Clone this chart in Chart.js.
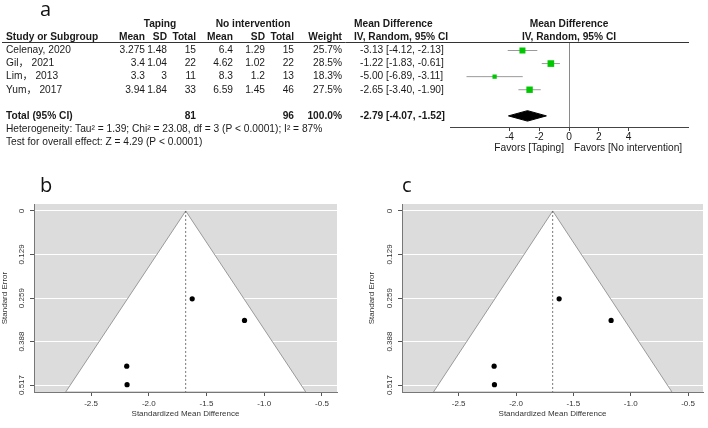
<!DOCTYPE html>
<html>
<head>
<meta charset="utf-8">
<script src="https://cdn.jsdelivr.net/npm/chart.js@4.4.1/dist/chart.umd.min.js"></script>
<style>
  body { margin: 0; background: #fff; width: 708px; height: 428px; overflow: hidden; position: relative; }
  canvas { position: absolute; }
  .lab { position: absolute; font-family: "Open Sans", sans-serif; font-size: 20px; line-height: 20px; color: #111; }
</style>
</head>
<body>
<canvas id="forest" width="708" height="170" style="left:0;top:0"></canvas>
<canvas id="funnelB" width="354" height="258" style="left:0;top:170px"></canvas>
<canvas id="funnelC" width="354" height="258" style="left:354px;top:170px"></canvas>
<div class="lab" style="left:40px;top:-1px">a</div>
<div class="lab" style="left:40px;top:175px">b</div>
<div class="lab" style="left:402px;top:175px">c</div>
<script>
// forest plot data (panel a)
const studies = ["Celenay, 2020", "Gil\uFF0C 2021", "Lim\uFF0C 2013", "Yum\uFF0C 2017"];
const tapingMean = [3.275, 3.4, 3.3, 3.94];
const tapingSD = [1.48, 1.04, 3, 1.84];
const tapingTotal = [15, 22, 11, 33];
const noMean = [6.4, 4.62, 8.3, 6.59];
const noSD = [1.29, 1.02, 1.2, 1.45];
const noTotal = [15, 22, 13, 46];
const weights = [25.7, 28.5, 18.3, 27.5];
const mdEst = [-3.13, -1.22, -5.00, -2.65];
const mdLow = [-4.12, -1.83, -6.89, -3.40];
const mdHigh = [-2.13, -0.61, -3.11, -1.90];
const pooledMD = -2.79;
const pooledLow = -4.07;
const pooledHigh = -1.52;
const totalTaping = 81;
const totalNo = 96;
const forestTicks = [-4, -2, 0, 2, 4];
const studyRows = [1, 2, 3, 4];
const totalRow = 6;

// funnel plot data (panels b and c)
const smd = [-1.624, -1.171, -2.191, -2.188];
const seVals = [0.261, 0.325, 0.461, 0.516];
const pooledSMD = -1.68;
const funnelX = [-1.68, -2.72, -0.64, -1.68];
const funnelY = [0, 0.538, 0.538, 0];
const seTicks = [0, 0.129, 0.259, 0.388, 0.517];
const smdTicks = [-2.5, -2, -1.5, -1, -0.5];

const FONT = '"Liberation Sans", Arial, "Noto Sans CJK SC", sans-serif';

const tablePlugin = {
  id: "tableText",
  afterDraw(chart) {
    const ctx = chart.ctx;
    const y = chart.scales.y;
    const x = chart.scales.x;
    const area = chart.chartArea;
    const mid = (area.left + area.right) / 2;
    ctx.save();
    ctx.fillStyle = "#1a1a1a";
    ctx.textBaseline = "middle";
    function txt(s, px, row, align, bold) {
      ctx.font = (bold ? "bold " : "") + "10.2px " + FONT;
      ctx.textAlign = align;
      ctx.fillText(s, px, typeof row === "number" ? y.getPixelForValue(row) : row.px);
    }
    // header rule
    ctx.strokeStyle = "#333";
    ctx.lineWidth = 1;
    ctx.beginPath();
    ctx.moveTo(2, area.top + 0.5);
    ctx.lineTo(area.right + 1, area.top + 0.5);
    ctx.stroke();

    const cols = [145, 167, 196, 233, 265, 294, 342];
    txt("Taping", 160, -1, "center", true);
    txt("No intervention", 253, -1, "center", true);
    txt("Mean Difference", 354, -1, "left", true);
    txt("Mean Difference", mid, -1, "center", true);
    txt("Study or Subgroup", 6, 0, "left", true);
    ["Mean", "SD", "Total", "Mean", "SD", "Total", "Weight"].forEach((h, k) => txt(h, cols[k], 0, "right", true));
    txt("IV, Random, 95% CI", 354, 0, "left", true);
    txt("IV, Random, 95% CI", mid, 0, "center", true);

    studies.forEach((s, i) => {
      const r = studyRows[i];
      txt(s, 6, r, "left");
      const vals = [tapingMean[i], tapingSD[i], tapingTotal[i], noMean[i], noSD[i], noTotal[i]];
      vals.forEach((v, k) => txt(String(v), cols[k], r, "right"));
      txt(weights[i].toFixed(1) + "%", cols[6], r, "right");
      txt(mdEst[i].toFixed(2) + " [" + mdLow[i].toFixed(2) + ", " + mdHigh[i].toFixed(2) + "]", 360, r, "left");
    });
    txt("Total (95% CI)", 6, totalRow, "left", true);
    txt(String(totalTaping), cols[2], totalRow, "right", true);
    txt(String(totalNo), cols[5], totalRow, "right", true);
    txt("100.0%", cols[6], totalRow, "right", true);
    txt(pooledMD.toFixed(2) + " [" + pooledLow.toFixed(2) + ", " + pooledHigh.toFixed(2) + "]", 360, totalRow, "left", true);
    txt("Heterogeneity: Tau\u00B2 = 1.39; Chi\u00B2 = 23.08, df = 3 (P < 0.0001); I\u00B2 = 87%", 6, {px: 129}, "left");
    txt("Test for overall effect: Z = 4.29 (P < 0.0001)", 6, {px: 142}, "left");
    const zero = x.getPixelForValue(0);
    txt("Favors [Taping]", zero - 5, {px: 148}, "right");
    txt("Favors [No intervention]", zero + 5, {px: 148}, "left");
    ctx.restore();
  }
};

// squares first so they are painted over the CI lines
const forestSets = [{
  data: studyRows.map((r, i) => ({x: mdEst[i], y: r})),
  showLine: false,
  pointStyle: "rect",
  pointRadius: c => 0.165 * weights[c.dataIndex],
  pointBackgroundColor: "#00c800",
  pointBorderWidth: 0
}];
studies.forEach((s, i) => forestSets.push({
  data: [{x: mdLow[i], y: studyRows[i]}, {x: mdHigh[i], y: studyRows[i]}],
  borderColor: "#9a9a9a",
  borderWidth: 1,
  pointRadius: 0
}));
forestSets.push({
  data: [
    {x: pooledLow, y: totalRow}, {x: pooledMD, y: totalRow - 0.4},
    {x: pooledHigh, y: totalRow}, {x: pooledMD, y: totalRow + 0.4},
    {x: pooledLow, y: totalRow}
  ],
  fill: "shape",
  backgroundColor: "#000",
  borderColor: "#000",
  borderWidth: 1,
  pointRadius: 0
});

new Chart(document.getElementById("forest"), {
  type: "line",
  data: { datasets: forestSets },
  options: {
    responsive: false,
    animation: false,
    layout: { padding: { top: 42, left: 450, right: 20, bottom: 0 } },
    plugins: { legend: { display: false }, tooltip: { enabled: false } },
    scales: {
      x: {
        type: "linear", min: -8, max: 8,
        afterBuildTicks: a => { a.ticks = forestTicks.map(v => ({value: v})); },
        afterFit: a => { a.height = 43; },
        grid: {
          color: c => (c.tick && c.tick.value === 0 ? "#8a8a8a" : "rgba(0,0,0,0)"),
          tickColor: "#444", tickLength: 4
        },
        border: { color: "#444" },
        ticks: { font: { family: FONT, size: 10.2 }, color: "#1a1a1a", padding: 0, maxRotation: 0 }
      },
      y: { type: "linear", display: false, reverse: true, min: 0.35, max: 6.85 }
    }
  },
  plugins: [tablePlugin]
});

const funnelBg = {
  id: "funnelBg",
  beforeDraw(chart) {
    const a = chart.chartArea;
    chart.ctx.save();
    chart.ctx.fillStyle = "#dcdcdc";
    chart.ctx.fillRect(a.left, a.top, a.right - a.left, a.bottom - a.top);
    chart.ctx.restore();
  },
  afterDraw(chart) {
    const ctx = chart.ctx;
    const y = chart.scales.y;
    ctx.save();
    ctx.fillStyle = "#333";
    ctx.font = "8px " + FONT;
    ctx.textAlign = "center";
    ctx.textBaseline = "middle";
    seTicks.forEach(v => {
      ctx.save();
      ctx.translate(chart.chartArea.left - 12, y.getPixelForValue(v));
      ctx.rotate(-Math.PI / 2);
      ctx.fillText(String(v), 0, 0);
      ctx.restore();
    });
    ctx.restore();
  }
};

function makeFunnel(id, yWidth, titlePad, rightPad) {
  return new Chart(document.getElementById(id), {
    type: "line",
    data: {
      datasets: [
        {
          data: smd.map((v, i) => ({x: v, y: seVals[i]})),
          showLine: false,
          pointRadius: 2.6,
          pointBackgroundColor: "#000",
          pointBorderWidth: 0
        },
        {
          data: [{x: pooledSMD, y: 0}, {x: pooledSMD, y: 0.538}],
          borderColor: "#555",
          borderWidth: 0.8,
          borderDash: [2, 2],
          pointRadius: 0
        },
        {
          data: funnelX.map((v, i) => ({x: v, y: funnelY[i]})),
          fill: "shape",
          backgroundColor: "#fff",
          borderColor: "#9a9a9a",
          borderWidth: 1,
          pointRadius: 0
        }
      ]
    },
    options: {
      responsive: false,
      animation: false,
      layout: { padding: { top: 34, left: 0, right: rightPad, bottom: 0 } },
      plugins: { legend: { display: false }, tooltip: { enabled: false } },
      scales: {
        x: {
          type: "linear", min: -2.994, max: -0.37,
          afterBuildTicks: a => { a.ticks = smdTicks.map(v => ({value: v})); },
          afterFit: a => { a.height = 36; },
          grid: { drawOnChartArea: false, tickColor: "#555", tickLength: 4 },
          border: { color: "#777", z: 1 },
          ticks: { font: { family: FONT, size: 8 }, color: "#333", padding: 3, maxRotation: 0 },
          title: { display: true, text: "Standardized Mean Difference", font: { family: FONT, size: 8 }, color: "#333", padding: { top: 0, bottom: 9 } }
        },
        y: {
          type: "linear", reverse: true, min: -0.0207, max: 0.5377,
          afterBuildTicks: a => { a.ticks = seTicks.map(v => ({value: v})); },
          afterFit: a => { a.width = yWidth; },
          grid: { color: "#ffffff", tickColor: "#555", tickLength: 4 },
          border: { color: "#777", z: 1 },
          ticks: { display: false },
          title: { display: true, text: "Standard Error", font: { family: FONT, size: 8 }, color: "#333", padding: { top: titlePad, bottom: 0 } }
        }
      }
    },
    plugins: [funnelBg]
  });
}

makeFunnel("funnelB", 34, 0, 17);
makeFunnel("funnelC", 48, 13, 5);
</script>
</body>
</html>
